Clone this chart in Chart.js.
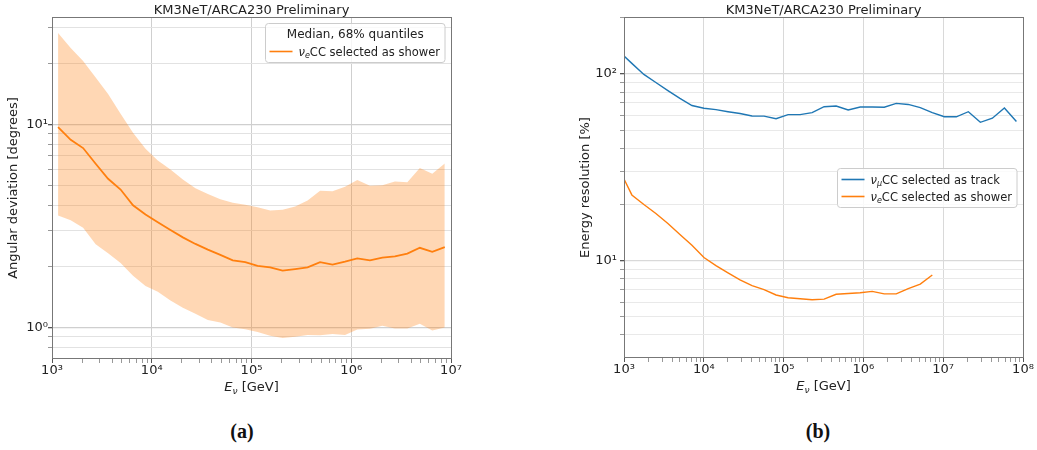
<!DOCTYPE html>
<html>
<head>
<meta charset="utf-8">
<script src="https://cdn.jsdelivr.net/npm/chart.js@4.4.1/dist/chart.umd.min.js"></script>
<style>
  body { margin: 0; background: #fff; width: 1037px; height: 450px; position: relative; overflow: hidden; }
  canvas { position: absolute; top: 0; }
  #chartA { left: 0; }
  #chartB { left: 570px; }
  .cap { position: absolute; top: 421px; font: bold 20px "Liberation Serif", "DejaVu Serif", serif; line-height: 20px; transform: translateX(-50%); color: #111; }
</style>
</head>
<body>
<canvas id="chartA" width="466" height="400"></canvas>
<canvas id="chartB" width="467" height="400"></canvas>
<div class="cap" style="left:242px">(a)</div>
<div class="cap" style="left:818px">(b)</div>
<script>
// ---- (a) angular deviation, median and 68% band ----
const energyA = [1.15e3, 1.54e3, 2.05e3, 2.74e3, 3.65e3, 4.87e3, 6.49e3, 8.66e3,
  1.15e4, 1.54e4, 2.05e4, 2.74e4, 3.65e4, 4.87e4, 6.49e4, 8.66e4,
  1.15e5, 1.54e5, 2.05e5, 2.74e5, 3.65e5, 4.87e5, 6.49e5, 8.66e5,
  1.15e6, 1.54e6, 2.05e6, 2.74e6, 3.65e6, 4.87e6, 6.49e6, 8.66e6];
const angMedian = [9.7, 8.4, 7.65, 6.4, 5.4, 4.78, 4.0, 3.6,
  3.3, 3.02, 2.78, 2.58, 2.42, 2.28, 2.14, 2.1,
  2.01, 1.98, 1.905, 1.94, 1.98, 2.1, 2.04, 2.11,
  2.19, 2.14, 2.21, 2.24, 2.31, 2.47, 2.36, 2.49];
const angUpper = [28.2, 23.8, 20.5, 17.0, 14.1, 11.3, 9.1, 7.6,
  6.65, 6.0, 5.35, 4.85, 4.55, 4.28, 4.12, 4.02,
  3.91, 3.77, 3.80, 3.94, 4.22, 4.71, 4.69, 4.93,
  5.33, 4.99, 5.02, 5.23, 5.19, 6.11, 5.72, 6.42];
const angLower = [3.56, 3.37, 3.1, 2.57, 2.32, 2.08, 1.8, 1.6,
  1.5, 1.36, 1.25, 1.17, 1.09, 1.06, 1.0, 0.98,
  0.95, 0.91, 0.887, 0.90, 0.92, 0.915, 0.93, 0.92,
  0.978, 0.985, 1.02, 0.99, 0.99, 1.045, 0.966, 1.0];

// ---- (b) energy resolution ----
const energyB = [1.0e3, 1.254e3, 1.774e3, 2.508e3, 3.549e3, 5.02e3, 7.101e3,
  1.004e4, 1.42e4, 2.01e4, 2.843e4, 4.021e4, 5.687e4, 8.045e4,
  1.138e5, 1.609e5, 2.277e5, 3.22e5, 4.555e5, 6.443e5, 9.114e5,
  1.289e6, 1.824e6, 2.579e6, 3.648e6, 5.161e6, 7.3e6,
  1.033e7, 1.46e7, 2.066e7, 2.922e7, 4.134e7, 5.847e7, 8.27e7];
const resTrack = [124.7, 114, 99.5, 90, 81.5, 74, 67.8, 65.5,
  64.4, 62.8, 61.4, 59.6, 59.5, 57.6, 60.6, 60.6,
  62.1, 66.8, 67.4, 64.2, 66.5, 66.6, 66.4, 69.6,
  68.7, 66.0, 62.1, 59.0, 59.0, 62.8, 55.1, 58.0,
  65.8, 55.6];
const resShower = [27.4, 22.5, 20.0, 17.9, 15.8, 13.8, 12.1, 10.4,
  9.4, 8.6, 7.9, 7.35, 7.0, 6.55, 6.33, 6.25,
  6.18, 6.22, 6.61, 6.67, 6.73, 6.85, 6.64, 6.64,
  7.09, 7.49, 8.38];

// ---- tick labels ----
const decadesAx = [1e3, 1e4, 1e5, 1e6, 1e7];
const labelsAx = ['10³', '10⁴', '10⁵', '10⁶', '10⁷'];
const decadesAy = [1, 10];
const labelsAy = ['10⁰', '10¹'];
const decadesBx = [1e3, 1e4, 1e5, 1e6, 1e7, 1e8];
const labelsBx = ['10³', '10⁴', '10⁵', '10⁶', '10⁷', '10⁸'];
const decadesBy = [10, 100];
const labelsBy = ['10¹', '10²'];

const C0 = '#1f77b4', C1 = '#ff7f0e';
const txt = '#222', spine = '#777';
const FONT = '"DejaVu Sans"';

Chart.defaults.font.family = FONT;
Chart.defaults.font.size = 13;
Chart.defaults.color = txt;

function pts(xs, ys) { return ys.map((y, i) => ({ x: xs[i], y: y })); }

// 1..9 x 10^n between min and max
function logTicks(min, max) {
  const out = [];
  for (let e = Math.floor(Math.log10(min)); e <= Math.ceil(Math.log10(max)); e++) {
    for (let m = 1; m < 10; m++) {
      const v = m * Math.pow(10, e);
      if (v >= min * 0.9999 && v <= max * 1.0001) out.push(v);
    }
  }
  return out;
}
function isDecade(v) { const l = Math.log10(v); return Math.abs(l - Math.round(l)) < 1e-6; }
function labeler(decades, labels) {
  return v => { const i = decades.findIndex(d => Math.abs(d - v) < d * 1e-6); return i >= 0 ? labels[i] : ''; };
}

function richFont(p, size) { return (p.it ? 'italic ' : '') + (p.sub ? size * 0.7 : size) + 'px ' + FONT; }
function measureRich(ctx, parts, size) {
  let w = 0;
  parts.forEach(p => { ctx.font = richFont(p, size); w += ctx.measureText(p.t).width; });
  return w;
}
function drawRich(ctx, parts, x, y, size, align) {
  const w = measureRich(ctx, parts, size);
  let cx = align === 'center' ? x - w / 2 : x;
  ctx.textAlign = 'left';
  ctx.textBaseline = 'alphabetic';
  const base = y + size * 0.36;
  parts.forEach(p => {
    ctx.font = richFont(p, size);
    ctx.fillText(p.t, cx, base + (p.sub ? size * 0.22 : 0));
    cx += ctx.measureText(p.t).width;
  });
}

// frame, x title with subscript, matplotlib-like legend box
const decor = {
  id: 'decor',
  afterDraw(chart, args, o) {
    const { ctx, chartArea: a } = chart;
    ctx.save();
    ctx.strokeStyle = spine;
    ctx.lineWidth = 1;
    ctx.strokeRect(Math.round(a.left) + 0.5, Math.round(a.top) + 0.5, Math.round(a.width), Math.round(a.height) - 1);

    ctx.fillStyle = txt;
    drawRich(ctx, o.xTitle, (a.left + a.right) / 2, a.bottom + 27, 13, 'center');

    const L = o.legend, fs = 11.5, tfs = 12, rowH = 17, pad = 4, handle = 23, gap = 6;
    let textW = 0;
    L.items.forEach(it => { textW = Math.max(textW, measureRich(ctx, it.parts, fs)); });
    let titleW = 0;
    if (L.title) { ctx.font = tfs + 'px ' + FONT; titleW = ctx.measureText(L.title).width; }
    const rows = L.items.length + (L.title ? 1 : 0);
    const w = Math.max(titleW, handle + gap + textW) + pad * 2 + 1;
    const h = rows * rowH + 5;
    const bx = Math.round(a.right - 6 - w) + 0.5;
    const by = Math.round(L.loc === 'center' ? (a.top + a.bottom) / 2 - h / 2 : a.top + 6) + 0.5;
    ctx.beginPath();
    if (ctx.roundRect) ctx.roundRect(bx, by, w, h, 3); else ctx.rect(bx, by, w, h);
    ctx.fillStyle = 'rgba(255,255,255,0.8)';
    ctx.fill();
    ctx.strokeStyle = '#cccccc';
    ctx.stroke();
    let ry = by + 2.5 + rowH / 2;
    ctx.fillStyle = txt;
    if (L.title) {
      ctx.font = tfs + 'px ' + FONT;
      ctx.textAlign = 'center';
      ctx.textBaseline = 'middle';
      ctx.fillText(L.title, bx + w / 2, ry);
      ry += rowH;
    }
    L.items.forEach(it => {
      ctx.strokeStyle = it.color;
      ctx.lineWidth = 1.6;
      ctx.beginPath();
      ctx.moveTo(bx + pad, ry);
      ctx.lineTo(bx + pad + handle, ry);
      ctx.stroke();
      ctx.fillStyle = txt;
      drawRich(ctx, it.parts, bx + pad + handle + gap, ry, fs, 'left');
      ry += rowH;
    });
    ctx.restore();
  }
};

function axes(xMin, xMax, yMin, yMax, xl, yl, yTitle, yw, xh, gridMaj, gridMin, yTitlePad, yTickPad) {
  return {
    x: {
      type: 'logarithmic', min: xMin, max: xMax,
      afterBuildTicks: s => { s.ticks = logTicks(xMin, xMax).map(v => ({ value: v })); },
      afterFit: s => { s.height = xh; },
      ticks: { autoSkip: false, maxRotation: 0, padding: 0, callback: xl, font: { size: 13 } },
      grid: {
        color: c => (c.tick && isDecade(c.tick.value)) ? gridMaj : 'rgba(0,0,0,0)',
        tickColor: c => (c.tick && isDecade(c.tick.value)) ? '#555' : '#999',
        tickLength: 4
      },
      border: { display: false }
    },
    y: {
      type: 'logarithmic', min: yMin, max: yMax,
      afterBuildTicks: s => { s.ticks = logTicks(yMin, yMax).map(v => ({ value: v })); },
      afterFit: s => { s.width = yw; },
      ticks: { autoSkip: false, padding: yTickPad, callback: yl, font: { size: 13 } },
      title: { display: true, text: yTitle, font: { size: 13 }, padding: { top: yTitlePad, bottom: 0 } },
      grid: {
        color: c => (c.tick && isDecade(c.tick.value)) ? gridMaj : gridMin,
        lineWidth: c => (c.tick && isDecade(c.tick.value)) ? 1.3 : 1,
        tickColor: c => (c.tick && isDecade(c.tick.value)) ? '#555' : '#999',
        tickLength: 4
      },
      border: { display: false }
    }
  };
}

const titleOpts = {
  display: true, text: 'KM3NeT/ARCA230 Preliminary', fullSize: false,
  font: { size: 13, weight: 'normal', lineHeight: 1 }, padding: { top: 4, bottom: 0 }, color: txt
};

const nuE = [{ t: 'ν', it: true }, { t: 'e', it: true, sub: true }, { t: 'CC selected as shower' }];
const nuMu = [{ t: 'ν', it: true }, { t: 'μ', it: true, sub: true }, { t: 'CC selected as track' }];
const eTitle = [{ t: 'E', it: true }, { t: 'ν', it: true, sub: true }, { t: ' [GeV]' }];

new Chart(document.getElementById('chartA'), {
  type: 'line',
  data: {
    datasets: [
      { label: 'median', data: pts(energyA, angMedian), borderColor: C1, borderWidth: 1.8, pointRadius: 0, fill: false },
      { label: 'upper', data: pts(energyA, angUpper), borderColor: 'rgba(0,0,0,0)', borderWidth: 0, pointRadius: 0,
        fill: '+1', backgroundColor: 'rgba(255,127,14,0.31)' },
      { label: 'lower', data: pts(energyA, angLower), borderColor: 'rgba(0,0,0,0)', borderWidth: 0, pointRadius: 0, fill: false }
    ]
  },
  options: {
    responsive: false, animation: false, devicePixelRatio: 1,
    layout: { padding: { left: 0, right: 15, top: 0, bottom: 0 } },
    scales: axes(1e3, 1e7, 0.74, 33.8, labeler(decadesAx, labelsAx), labeler(decadesAy, labelsAy),
      'Angular deviation [degrees]', 52, 41, '#cfcfcf', '#e2e2e2', 6, 0),
    plugins: {
      legend: { display: false }, tooltip: { enabled: false }, title: titleOpts,
      decor: { xTitle: eTitle, legend: { title: 'Median, 68% quantiles', loc: 'upper', items: [{ color: C1, parts: nuE }] } }
    }
  },
  plugins: [decor]
});

new Chart(document.getElementById('chartB'), {
  type: 'line',
  data: {
    datasets: [
      { label: 'track', data: pts(energyB, resTrack), borderColor: C0, borderWidth: 1.4, pointRadius: 0, fill: false },
      { label: 'shower', data: pts(energyB, resShower), borderColor: C1, borderWidth: 1.4, pointRadius: 0, fill: false }
    ]
  },
  options: {
    responsive: false, animation: false, devicePixelRatio: 1,
    layout: { padding: { left: 0, right: 14, top: 0, bottom: 0 } },
    scales: axes(1e3, 1e8, 3.01, 202, labeler(decadesBx, labelsBx), labeler(decadesBy, labelsBy),
      'Energy resolution [%]', 54, 42, '#d9d9d9', '#e9e9e9', 8, 3),
    plugins: {
      legend: { display: false }, tooltip: { enabled: false }, title: titleOpts,
      decor: { xTitle: eTitle, legend: { loc: 'center', items: [{ color: C0, parts: nuMu }, { color: C1, parts: nuE }] } }
    }
  },
  plugins: [decor]
});
</script>
</body>
</html>
